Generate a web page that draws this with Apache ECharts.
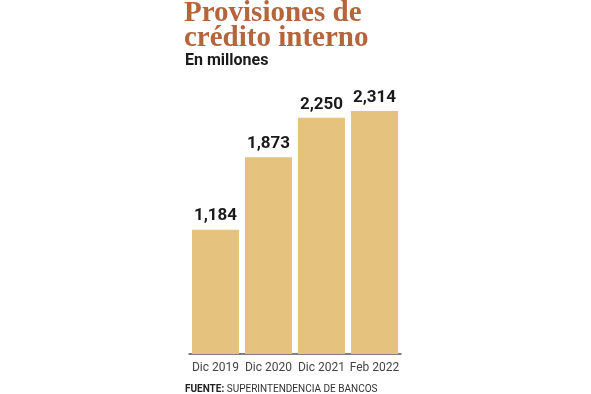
<!DOCTYPE html>
<html><head><meta charset="utf-8">
<script src="https://cdn.jsdelivr.net/npm/echarts@6/dist/echarts.min.js"></script>
<style>html,body{margin:0;padding:0;background:#fff}#c{width:591px;height:394px}</style>
</head><body><div id="c"></div>
<script>
const categories = ['Dic 2019', 'Dic 2020', 'Dic 2021', 'Feb 2022'];
const values = [1184, 1873, 2250, 2314];
const titleLines = ['Provisiones de', 'crédito interno'];
const subtitle = 'En millones';
const source = ['FUENTE:', ' SUPERINTENDENCIA DE BANCOS'];

const chart = echarts.init(document.getElementById('c'));
chart.setOption({
  backgroundColor: '#fff',
  animation: false,
  title: [{
    text: titleLines.join('\n'),
    left: 179, top: -4,
    textStyle: {fontFamily: 'Liberation Serif', fontWeight: 'bold', fontSize: 29, color: '#b5643b', lineHeight: 25}
  }, {
    text: subtitle,
    left: 180, top: 48,
    textStyle: {fontFamily: 'Roboto', fontWeight: 'bold', fontSize: 16, color: '#1a1a1a'}
  }, {
    text: '{b|' + source[0] + '}{n|' + source[1] + '}',
    left: 180, top: 379,
    textStyle: {fontWeight: 'normal', rich: {
      b: {fontFamily: 'Roboto', fontWeight: 'bold', fontSize: 10, color: '#222'},
      n: {fontFamily: 'Roboto', fontWeight: 'normal', fontSize: 10, color: '#333'}
    }}
  }],
  grid: {left: 189, right: 190, top: 91.5, bottom: 40, containLabel: false},
  xAxis: {
    type: 'category', data: categories,
    axisLine: {lineStyle: {color: '#555', width: 1.5}},
    axisTick: {show: false},
    axisLabel: {interval: 0, fontFamily: 'Roboto', fontSize: 12, color: '#444', margin: 8}
  },
  yAxis: {type: 'value', min: 0, max: 2500, show: false, splitLine: {show: false}},
  series: [{
    type: 'bar', data: values, barWidth: 47,
    itemStyle: {color: '#e5c27d'},
    label: {show: true, position: 'top', distance: 5,
      formatter: p => p.value.toLocaleString('en-US'),
      fontFamily: 'Roboto', fontWeight: 'bold', fontSize: 17, color: '#1a1a1a'}
  }]
});
</script></body></html>
